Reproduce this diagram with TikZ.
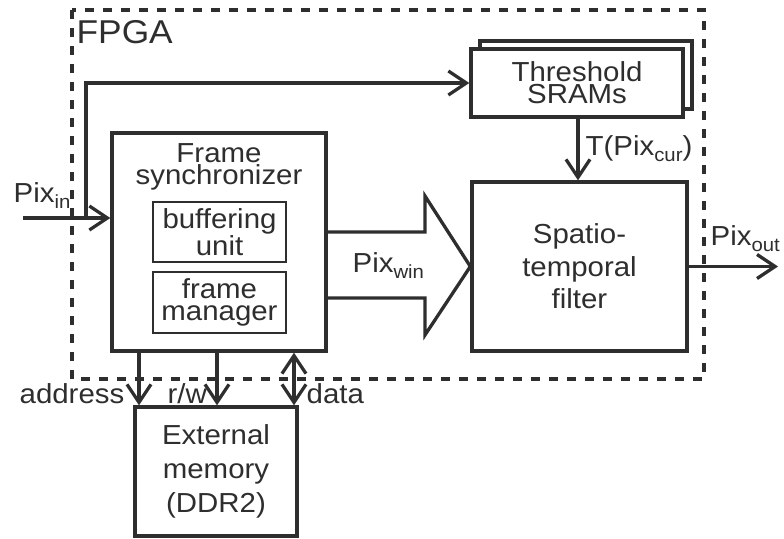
\documentclass[tikz,border=0pt]{standalone}
\usepackage{fontspec}
\setmainfont{Liberation Sans}[FakeStretch=1.07]
\usetikzlibrary{arrows.meta}
\definecolor{ink}{HTML}{2E2E2E}
\newcommand\lowtext[1]{\raisebox{-0.22em}{\fontsize{19}{19}\selectfont #1}}
\newcommand\blockfont{\fontsize{27.5}{22}\selectfont}

\begin{document}
\begin{tikzpicture}[x=1pt,y=-1pt,color=ink,line width=3.3pt,
  block/.style={draw,fill=white,inner sep=0pt,align=center,font=\blockfont},
  subblock/.style={draw,line width=1.1pt,inner sep=0pt,align=center,font=\blockfont},
  lbl/.style={inner sep=0pt,font=\blockfont},
  arr/.style={-{Straight Barb[length=18pt,width=24pt]}},
  biarr/.style={{Straight Barb[length=18pt,width=24pt]}-{Straight Barb[length=18pt,width=24pt]}},
  fpgaline/.style={dash pattern=on 9pt off 9pt}]
\useasboundingbox (0,0) rectangle (784,538);

% FPGA boundary
\draw[fpgaline] (72,10) rectangle (704,379);
\node[lbl,anchor=base west,font=\fontsize{33}{33}\selectfont] (fpga) at (75,43) {FPGA};

% Frame synchronizer with its two sub-units
\node[block,minimum width=214pt,minimum height=218pt] (fs) at (219,242) {};
\node[lbl,align=center] (fstext) at (219,167) {Frame\\synchronizer};
\node[subblock,minimum width=133pt,minimum height=60pt] (buf) at (219.5,232) {buffering\\unit};
\node[subblock,minimum width=133pt,minimum height=61pt] (mgr) at (219.5,302.5) {frame\\manager};

% Threshold SRAMs (stacked)
\node[block,minimum width=212pt,minimum height=68pt] (tsback) at (586,75) {};
\node[block,minimum width=212pt,minimum height=68pt] (ts) at (577,83) {Threshold\\SRAMs};

% Spatio-temporal filter
\node[block,minimum width=215pt,minimum height=169pt,
      font=\fontsize{27.5}{32.5}\selectfont] (sf) at (579.5,266.5) {Spatio-\\temporal\\filter};

% External memory
\node[block,minimum width=162pt,minimum height=129pt,
      font=\fontsize{27.5}{34}\selectfont] (mem) at (216,471.5) {External\\memory\\(DDR2)};

% Pixel input and its branch to the threshold memories
\coordinate (pin) at (23,218);
\coordinate (br) at (86,218);
\draw[arr] (pin) -- (pin -| fs.west);
\draw[arr] (br) |- (ts.west);
\node[lbl,anchor=base west] (pinlbl) at (12,202) {Pix\lowtext{in}};

% Threshold value to the filter
\draw[arr] (578,0 |- ts.south) -- (578,0 |- sf.north);
\node[lbl,anchor=base west] (tlbl) at (584,155) {T(Pix\lowtext{cur})};

% Pixel window (wide arrow)
\draw[line join=miter]
  (fs.east |- 0,232) -- (425,232) -- (425,196) -- (sf.west)
  -- (425,335) -- (425,298) -- (fs.east |- 0,298);
\node[lbl,anchor=base west] (winlbl) at (351,272) {Pix\lowtext{win}};

% Pixel output
\coordinate (pout) at (778,266.5);
\draw[arr] (sf.east) -- (pout);
\node[lbl,anchor=base west] (outlbl) at (709,245) {Pix\lowtext{out}};

% Memory interface
\draw[arr] (139,0 |- fs.south) -- (139,0 |- mem.north);
\draw[arr] (217,0 |- fs.south) -- (217,0 |- mem.north);
\draw[biarr] (294,0 |- fs.south) -- (294,0 |- mem.north);
\node[lbl,anchor=base east] (addrlbl) at (126,403) {address};
\node[lbl,anchor=base west] (rwlbl) at (166,403) {r/w};
\node[lbl,anchor=base west] (datalbl) at (305,403) {data};
\end{tikzpicture}
\end{document}
